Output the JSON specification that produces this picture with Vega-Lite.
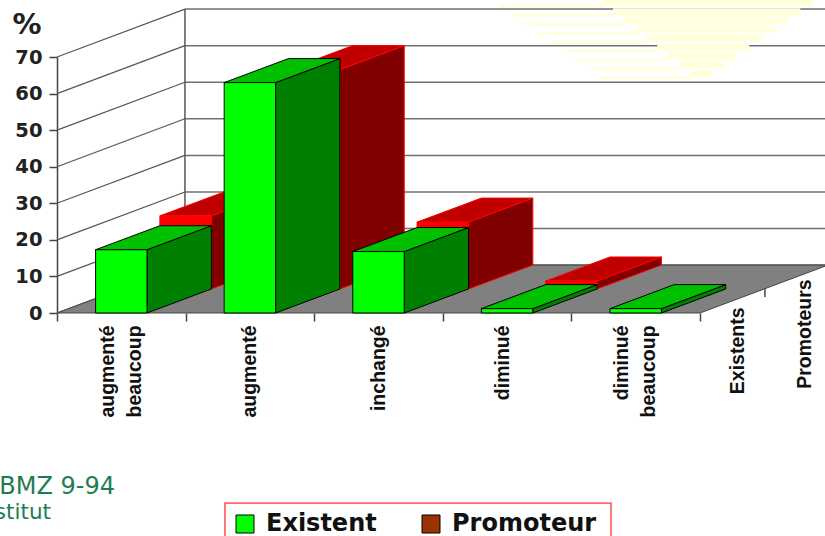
{
"$schema":"https://vega.github.io/schema/vega-lite/v6.json",
"width":768,"height":256,"autosize":"none",
"padding":{"left":57,"top":57,"right":0,"bottom":223},
"background":"white",
"config":{"view":{"stroke":null}},
"datasets":{
"barres":[
{"categorie":"augmenté beaucoup","i":0,"serie":"Existent","valeur":17.3},
{"categorie":"augmenté","i":1,"serie":"Existent","valeur":63},
{"categorie":"inchangé","i":2,"serie":"Existent","valeur":16.8},
{"categorie":"diminué","i":3,"serie":"Existent","valeur":1.2},
{"categorie":"diminué beaucoup","i":4,"serie":"Existent","valeur":1.2},
{"categorie":"augmenté beaucoup","i":0,"serie":"Promoteur","valeur":20},
{"categorie":"augmenté","i":1,"serie":"Promoteur","valeur":60},
{"categorie":"inchangé","i":2,"serie":"Promoteur","valeur":18.3},
{"categorie":"diminué","i":3,"serie":"Promoteur","valeur":2.2},
{"categorie":"diminué beaucoup","i":4,"serie":"Promoteur","valeur":0}
],
"bandes":[{"k":0},{"k":1},{"k":2},{"k":3},{"k":4},{"k":5},{"k":6},{"k":7},{"k":8}]
},
"data":{"name":"barres"},
"encoding":{
"x":{"field":"xa","type":"quantitative","scale":{"domain":[0,5.972],"nice":false,"zero":false},"axis":{"title":null,"values":[0,1,2,3,4,5],"labels":false,"domain":false,"grid":false,"tickSize":8,"tickColor":"#444444","tickWidth":1.5}},
"y":{"field":"ya","type":"quantitative","scale":{"domain":[0,70],"nice":false,"zero":false},"axis":{"title":"%","titleAngle":0,"titleX":-45,"titleY":-24,"titleAlign":"left","titleBaseline":"alphabetic","titleFont":"DejaVu Sans","titleFontWeight":"bold","titleFontSize":29,"titleColor":"#222222","values":[0,10,20,30,40,50,60,70],"grid":false,"domainColor":"#444444","domainWidth":1.5,"tickColor":"#444444","tickWidth":1.5,"tickSize":8,"labelFont":"DejaVu Sans","labelFontWeight":"bold","labelFontSize":19.5,"labelColor":"#222222","labelPadding":7}}
},
"layer":[
{"data":{"values":[{"v":0},{"v":10},{"v":20},{"v":30},{"v":40},{"v":50},{"v":60},{"v":70}]},"transform":[{"calculate":"0","as":"xa"},{"calculate":"datum.v","as":"ya"},{"calculate":"0.995","as":"xb"},{"calculate":"datum.v+13.1","as":"yb"}],"mark":{"type":"rule","color":"#555555","strokeWidth":1.2},"encoding":{"x2":{"field":"xb"},"y2":{"field":"yb"}}},
{"data":{"values":[{"v":0},{"v":10},{"v":20},{"v":30},{"v":40},{"v":50},{"v":60},{"v":70}]},"transform":[{"calculate":"0.995","as":"xa"},{"calculate":"datum.v+13.1","as":"ya"},{"calculate":"6","as":"xb"}],"mark":{"type":"rule","color":"#707070","strokeWidth":1.5},"encoding":{"x2":{"field":"xb"}}},
{"data":{"values":[{"v":0}]},"transform":[{"calculate":"0.995","as":"xa"},{"calculate":"13.1","as":"ya"},{"calculate":"83.1","as":"yb"}],"mark":{"type":"rule","color":"#555555","strokeWidth":1.5},"encoding":{"y2":{"field":"yb"}}},
{"data":{"name":"bandes"},"transform":[{"calculate":"3.445+0.098*datum.k","as":"xa"},{"calculate":"4.238+0.086*datum.k","as":"xb"},{"calculate":"84.2-2.43*datum.k","as":"ya"},{"calculate":"datum.ya-0.8","as":"yb"}],"mark":{"type":"rect","fill":"#ffffdc"},"encoding":{"x2":{"field":"xb"},"y2":{"field":"yb"}}},
{"data":{"name":"bandes"},"transform":[{"calculate":"4.238+0.086*datum.k","as":"xa"},{"calculate":"5.879-0.0991*datum.k","as":"xb"},{"calculate":"85.73-2.41*datum.k","as":"ya"},{"calculate":"datum.ya-1.95","as":"yb"}],"mark":{"type":"rect","fill":"#ffffdc"},"encoding":{"x2":{"field":"xb"},"y2":{"field":"yb"}}},
{"data":{"values":[{"t":0},{"t":1}]},"transform":[{"calculate":"0.995*datum.t","as":"xa"},{"calculate":"5+0.995*datum.t","as":"xb"},{"calculate":"13.1*datum.t","as":"ya"}],"mark":{"type":"area","orient":"horizontal","fill":"#808080","stroke":"#444444","strokeWidth":1},"encoding":{"x2":{"field":"xb"}}},
{"data":{"values":[{"v":0}]},"transform":[{"calculate":"5.505","as":"xa"},{"calculate":"6.56","as":"ya"},{"calculate":"4.4","as":"yb"}],"mark":{"type":"rule","color":"#444444","strokeWidth":1.5},"encoding":{"y2":{"field":"yb"}}},
{"transform":[{"filter":"datum.serie=='Promoteur' && datum.valeur>0"},{"calculate":"[0,1]","as":"t"},{"flatten":["t"]},{"calculate":"datum.i+1.2+0.5*datum.t","as":"xa"},{"calculate":"6.56+6.56*datum.t","as":"yb"},{"calculate":"datum.yb+datum.valeur","as":"ya"}],"mark":{"type":"area","fill":"#800000","stroke":"#ff0000","strokeWidth":1},"encoding":{"y2":{"field":"yb"},"detail":{"field":"categorie"}}},
{"transform":[{"filter":"datum.serie=='Promoteur' && datum.valeur>0"},{"calculate":"[0,1]","as":"t"},{"flatten":["t"]},{"calculate":"datum.i+0.8+0.5*datum.t","as":"xa"},{"calculate":"datum.i+1.2+0.5*datum.t","as":"xb"},{"calculate":"6.56+6.56*datum.t+datum.valeur","as":"ya"}],"mark":{"type":"area","orient":"horizontal","fill":"#c00000","stroke":"#ff0000","strokeWidth":1},"encoding":{"x2":{"field":"xb"},"detail":{"field":"categorie"}}},
{"transform":[{"filter":"datum.serie=='Promoteur' && datum.valeur>0"},{"calculate":"datum.i+0.8","as":"xa"},{"calculate":"datum.i+1.2","as":"xb"},{"calculate":"6.56+datum.valeur","as":"ya"},{"calculate":"6.56","as":"yb"}],"mark":{"type":"rect","fill":"#ff0000","stroke":"#ff0000","strokeWidth":1},"encoding":{"x2":{"field":"xb"},"y2":{"field":"yb"}}},
{"transform":[{"filter":"datum.serie=='Existent'"},{"calculate":"[0,1]","as":"t"},{"flatten":["t"]},{"calculate":"datum.i+0.7+0.5*datum.t","as":"xa"},{"calculate":"6.56*datum.t","as":"yb"},{"calculate":"datum.yb+datum.valeur","as":"ya"}],"mark":{"type":"area","fill":"#008000","stroke":"#000000","strokeWidth":1},"encoding":{"y2":{"field":"yb"},"detail":{"field":"categorie"}}},
{"transform":[{"filter":"datum.serie=='Existent'"},{"calculate":"[0,1]","as":"t"},{"flatten":["t"]},{"calculate":"datum.i+0.3+0.5*datum.t","as":"xa"},{"calculate":"datum.i+0.7+0.5*datum.t","as":"xb"},{"calculate":"6.56*datum.t+datum.valeur","as":"ya"}],"mark":{"type":"area","orient":"horizontal","fill":"#00c000","stroke":"#000000","strokeWidth":1},"encoding":{"x2":{"field":"xb"},"detail":{"field":"categorie"}}},
{"transform":[{"filter":"datum.serie=='Existent'"},{"calculate":"datum.i+0.3","as":"xa"},{"calculate":"datum.i+0.7","as":"xb"},{"calculate":"datum.valeur","as":"ya"},{"calculate":"0","as":"yb"}],"mark":{"type":"rect","fill":"#00ff00","stroke":"#000000","strokeWidth":1},"encoding":{"x2":{"field":"xb"},"y2":{"field":"yb"}}},
{"transform":[{"filter":"datum.serie=='Existent'"},{"calculate":"datum.i+0.5+(indexof(datum.categorie,' ')>=0?-0.105:0)+(datum.i==3?-0.03:0)","as":"xa"},{"calculate":"-3.4","as":"ya"}],"mark":{"type":"text","angle":270,"align":"right","baseline":"middle","lineBreak":" ","lineHeight":27,"font":"Liberation Sans","fontWeight":"bold","fontSize":19.5,"color":"#111111"},"encoding":{"text":{"field":"categorie"}}},
{"data":{"values":[{"serie":"Existents","d":0},{"serie":"Promoteurs","d":1}]},"transform":[{"calculate":"5.295+0.521*datum.d","as":"xa"},{"calculate":"1.5+7.7*datum.d","as":"ya"}],"mark":{"type":"text","angle":270,"align":"right","baseline":"middle","font":"Liberation Sans","fontWeight":"bold","fontSize":19.5,"color":"#111111"},"encoding":{"text":{"field":"serie"}}},
{"data":{"values":[{"note":"BMZ 9-94"}]},"transform":[{"calculate":"0.451","as":"xa"},{"calculate":"-49.6","as":"ya"}],"mark":{"type":"text","align":"right","baseline":"alphabetic","font":"DejaVu Sans","fontSize":24,"color":"#1e7d50"},"encoding":{"text":{"field":"note"}}},
{"data":{"values":[{"note":"Institut"}]},"transform":[{"calculate":"-0.047","as":"xa"},{"calculate":"-56.2","as":"ya"}],"mark":{"type":"text","align":"right","baseline":"alphabetic","font":"DejaVu Sans","fontSize":21.5,"color":"#1e7d50"},"encoding":{"text":{"field":"note"}}},
{"data":{"values":[{"cadre":"légende"}]},"transform":[{"calculate":"1.306","as":"xa"},{"calculate":"4.308","as":"xb"},{"calculate":"-52","as":"ya"},{"calculate":"-64","as":"yb"}],"mark":{"type":"rect","fill":"#ffffff","stroke":"#ff6a6a","strokeWidth":1.8},"encoding":{"x2":{"field":"xb"},"y2":{"field":"yb"}}},
{"transform":[{"calculate":"datum.i+0.5","as":"xa"},{"calculate":"datum.valeur","as":"ya"}],"mark":{"type":"square","opacity":0},"encoding":{"fill":{"field":"serie","type":"nominal","scale":{"domain":["Existent","Promoteur"],"range":["#00ff00","#993300"]},"legend":{"title":null,"orient":"none","legendX":168,"legendY":447,"direction":"horizontal","symbolType":"square","symbolSize":324,"symbolOpacity":1,"symbolStrokeColor":"#000000","symbolStrokeWidth":1,"labelFont":"DejaVu Sans","labelFontWeight":"bold","labelFontSize":24,"labelColor":"#111111","labelOffset":9,"columnPadding":42,"padding":8}}}}
]
}
